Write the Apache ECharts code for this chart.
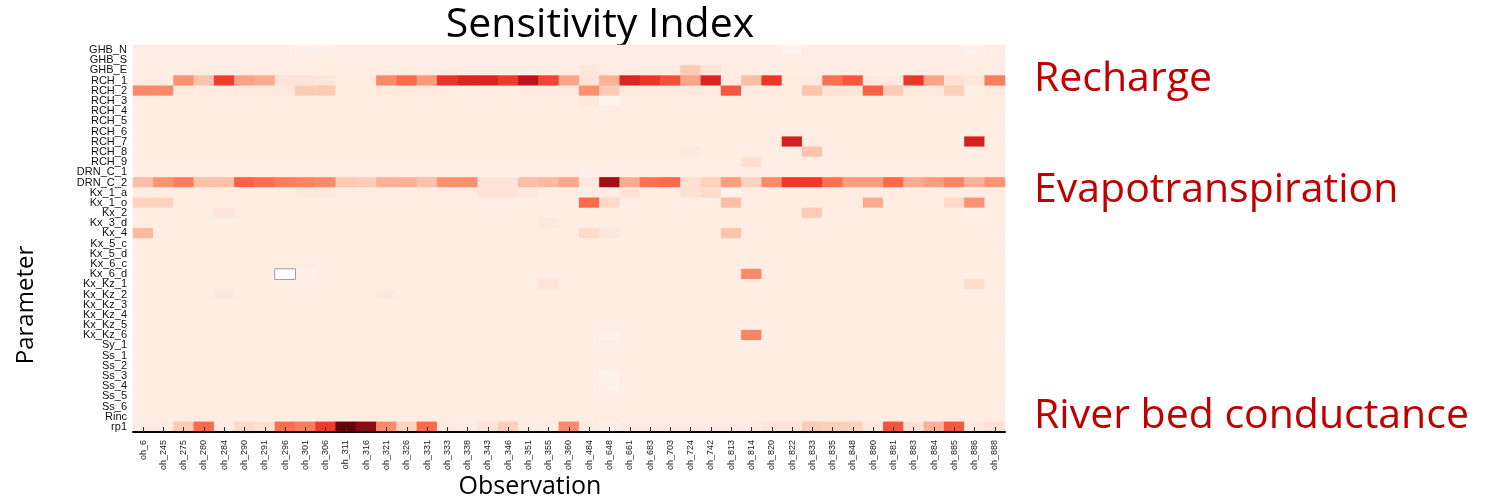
<!DOCTYPE html>
<html><head><meta charset="utf-8">
<script src="https://cdn.jsdelivr.net/npm/echarts@6/dist/echarts.min.js"></script>
<style>html,body{margin:0;padding:0;background:#fff}#c{width:1486px;height:500px}</style>
</head><body><div id="c"></div>
<script>
const observations = ['oh_6','oh_245','oh_275','oh_280','oh_284','oh_290','oh_291','oh_296','oh_301','oh_306','oh_311','oh_316','oh_321','oh_326','oh_331','oh_333','oh_338','oh_343','oh_346','oh_351','oh_355','oh_360','oh_484','oh_648','oh_661','oh_683','oh_703','oh_724','oh_742','oh_813','oh_814','oh_820','oh_822','oh_833','oh_835','oh_848','oh_880','oh_881','oh_883','oh_884','oh_885','oh_886','oh_888'];
const parameters = ['GHB_N','GHB_S','GHB_E','RCH_1','RCH_2','RCH_3','RCH_4','RCH_5','RCH_6','RCH_7','RCH_8','RCH_9','DRN_C_1','DRN_C_2','Kx_1_a','Kx_1_o','Kx_2','Kx_3_d','Kx_4','Kx_5_c','Kx_5_d','Kx_6_c','Kx_6_d','Kx_Kz_1','Kx_Kz_2','Kx_Kz_3','Kx_Kz_4','Kx_Kz_5','Kx_Kz_6','Sy_1','Ss_1','Ss_2','Ss_3','Ss_4','Ss_5','Ss_6','Rinc','rp1'];
// background sensitivity level of each parameter row
const baseLevel = [0.045,0.05,0.055,0.05,0.05,0.05,0.05,0.05,0.05,0.05,0.05,0.05,0.045,0.05,0.05,0.05,0.05,0.05,0.05,0.05,0.05,0.05,0.05,0.05,0.05,0.05,0.05,0.05,0.05,0.05,0.05,0.05,0.05,0.05,0.05,0.05,0.05,0.05];
const rch1 = [0.05,0.05,0.38,0.22,0.62,0.33,0.3,0.1,0.1,0.09,0.05,0.06,0.4,0.5,0.35,0.65,0.7,0.7,0.63,0.8,0.6,0.32,0.1,0.28,0.7,0.64,0.57,0.32,0.7,0.06,0.24,0.64,0.06,0.06,0.48,0.55,0.07,0.07,0.64,0.32,0.12,0.09,0.44];
const rch2 = [0.4,0.4,0.07,0.06,0.06,0.07,0.07,0.08,0.2,0.2,0.05,0.05,0.07,0.08,0.07,0.06,0.06,0.06,0.06,0.06,0.06,0.07,0.38,0.2,0.07,0.07,0.07,0.07,0.06,0.55,0.06,0.06,0.05,0.22,0.1,0.1,0.53,0.2,0.08,0.08,0.18,0.04,0.07];
const drnC2 = [0.24,0.37,0.44,0.23,0.23,0.52,0.49,0.44,0.42,0.4,0.2,0.19,0.28,0.28,0.23,0.38,0.38,0.1,0.1,0.24,0.25,0.31,0.08,0.88,0.3,0.48,0.5,0.12,0.17,0.34,0.17,0.4,0.63,0.63,0.48,0.34,0.34,0.5,0.3,0.34,0.42,0.28,0.37];
const rp1 = [0.06,0.06,0.2,0.5,0.06,0.15,0.12,0.49,0.44,0.63,1.0,0.92,0.4,0.17,0.5,0.06,0.05,0.1,0.19,0.05,0.06,0.4,0.06,0.03,0.06,0.06,0.06,0.06,0.06,0.06,0.06,0.1,0.1,0.2,0.18,0.18,0.08,0.56,0.12,0.28,0.55,0.07,0.12];
// isolated cells: [observation index, parameter index, value]
const spots = [
  [8,0,0.03],[9,0,0.03],[32,0,0.02],[41,0,0.02],
  [22,2,0.09],[27,2,0.2],[28,2,0.1],
  [22,5,0.08],[23,5,0.01],
  [32,9,0.72],[41,9,0.72],
  [27,10,0.08],[33,10,0.22],
  [30,11,0.13],
  [22,12,0.03],[23,12,0.04],
  [8,14,0.08],[9,14,0.08],[17,14,0.1],[18,14,0.1],[19,14,0.08],[24,14,0.1],[27,14,0.12],[28,14,0.14],[29,14,0.02],
  [0,15,0.17],[1,15,0.17],[22,15,0.5],[23,15,0.15],[29,15,0.24],[36,15,0.3],[40,15,0.15],[41,15,0.37],
  [4,16,0.1],[33,16,0.2],[41,16,0.03],
  [20,17,0.08],
  [0,18,0.26],[22,18,0.14],[23,18,0.09],[29,18,0.22],
  [8,22,0.03],[30,22,0.4],
  [20,23,0.1],[41,23,0.14],
  [4,24,0.08],[12,24,0.08],
  [23,28,0.02],[30,28,0.42],
  [23,32,0.02],[23,33,0.02]
];
const missingCells = [[7,22]];
const rowSeries = {3: rch1, 4: rch2, 13: drnC2, 37: rp1};
const reds = ['#fff5f0','#fee0d2','#fcbba1','#fc9272','#fb6a4a','#ef3b2c','#cb181d','#a50f15','#67000d'];

const grid = {};
parameters.forEach((p, r) => {
  observations.forEach((o, c) => {
    grid[c + ',' + r] = rowSeries[r] ? rowSeries[r][c] : baseLevel[r];
  });
});
spots.forEach(([c, r, v]) => { grid[c + ',' + r] = v; });
const missingKeys = new Set(missingCells.map(([c, r]) => c + ',' + r));
const data = [];
parameters.forEach((p, r) => {
  observations.forEach((o, c) => {
    const k = c + ',' + r;
    if (!missingKeys.has(k)) data.push([c, r, grid[k]]);
  });
});
const missingData = missingCells.map(([c, r]) => [c, r, 0]);

const chart = echarts.init(document.getElementById('c'), null, {renderer: 'canvas'});
chart.setOption({
  animation: false,
  backgroundColor: '#fff',
  grid: {left: 133, right: 481, top: 45, bottom: 68},
  xAxis: [{
    type: 'category', data: observations, position: 'bottom',
    axisLine: {show: true, lineStyle: {color: '#000', width: 2}},
    axisTick: {show: true, inside: true, length: 5, alignWithLabel: true, interval: 0, lineStyle: {color: '#333'}},
    axisLabel: {rotate: 90, interval: 0, fontSize: 9, fontFamily: 'Liberation Sans', color: '#222', margin: 8},
    splitLine: {show: false}, splitArea: {show: false}, z: 10
  }, {
    type: 'category', data: observations, position: 'top',
    axisLine: {show: true, lineStyle: {color: '#bdbdbd', width: 1}},
    axisTick: {show: false}, axisLabel: {show: false}, splitLine: {show: false}
  }],
  yAxis: {
    type: 'category', data: parameters, inverse: true,
    axisLine: {show: false}, axisTick: {show: false},
    axisLabel: {interval: 0, fontSize: 11, fontFamily: 'Liberation Sans', color: '#111', margin: 6},
    splitLine: {show: false}, splitArea: {show: false}
  },
  visualMap: {
    type: 'continuous', show: false, min: 0, max: 1, dimension: 2, seriesIndex: 0,
    inRange: {color: reds}
  },
  series: [{
    type: 'heatmap', data: data, itemStyle: {borderWidth: 0}, emphasis: {disabled: true}
  }, {
    type: 'heatmap', data: missingData,
    itemStyle: {color: '#ffffff', borderColor: '#9e9e9e', borderWidth: 1}, emphasis: {disabled: true}
  }],
  graphic: [
    {type: 'text', style: {text: 'Sensitivity Index', x: 600, y: 25, align: 'center', verticalAlign: 'middle', font: '41px "Open Sans"', fill: '#000'}},
    {type: 'text', style: {text: 'Observation', x: 530, y: 487, align: 'center', verticalAlign: 'middle', font: '25px "Open Sans"', fill: '#000'}},
    {type: 'text', x: 26, y: 305, rotation: Math.PI / 2, style: {text: 'Parameter', x: 0, y: 0, align: 'center', verticalAlign: 'middle', font: '24px "Open Sans"', fill: '#000'}},
    {type: 'text', style: {text: 'Recharge', x: 1034, y: 79, align: 'left', verticalAlign: 'middle', font: '41px "Open Sans"', fill: '#c00000'}},
    {type: 'text', style: {text: 'Evapotranspiration', x: 1034, y: 190, align: 'left', verticalAlign: 'middle', font: '41px "Open Sans"', fill: '#c00000'}},
    {type: 'text', style: {text: 'River bed conductance', x: 1034, y: 416, align: 'left', verticalAlign: 'middle', font: '41px "Open Sans"', fill: '#c00000'}}
  ]
});
</script></body></html>
